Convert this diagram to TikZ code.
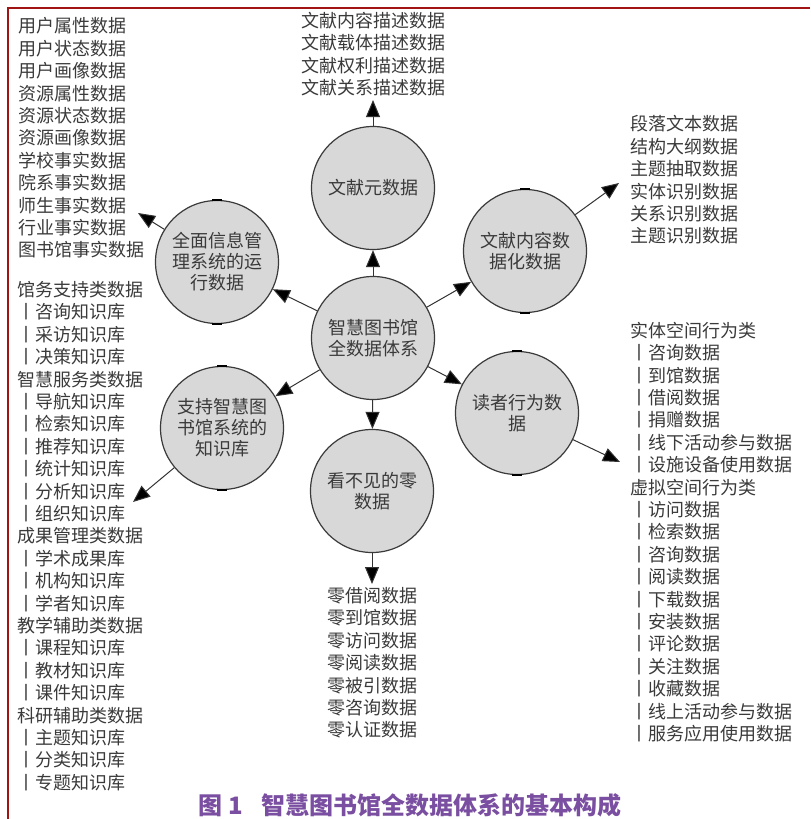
\documentclass[tikz,border=0pt]{standalone}
\usepackage{fontspec}
\setmainfont{Noto Sans CJK SC}
\usepackage{xcolor}
\usetikzlibrary{arrows.meta}
\definecolor{framered}{RGB}{160,20,20}
\definecolor{bubblegray}{RGB}{216,216,216}
\definecolor{inkgray}{RGB}{58,58,58}
\definecolor{capviolet}{RGB}{122,78,160}

\begin{document}
\begin{tikzpicture}[x=0.5pt, y=-0.5pt, semithick]
\tikzstyle{bubble}=[circle, draw=inkgray, fill=bubblegray, line width=0.6pt,
                    minimum size=61.5pt, inner sep=0pt, align=center, text=inkgray,
                    font=\fontsize{9}{10.5}\selectfont]
\tikzstyle{leaf}=[inner sep=0pt, text=inkgray, font=\fontsize{9}{11.2}\selectfont]
\tikzstyle{link}=[-{Triangle[length=8.5pt,width=7pt,fill=black]}, draw=black!80, line width=0.5pt]
\tikzstyle{stub}=[line width=1pt, black]
  \useasboundingbox (0,0) rectangle (810,819);
  \draw[framered, line width=1pt] (810,8) -- (8,8) -- (8,819);

  % circles
  \node[bubble] (hub) at (373,338) {智慧图书馆\\全数据体系};
  \node[bubble] (meta) at (373,188) {文献元数据};
  \node[bubble] (content) at (525,251) {文献内容数\\据化数据};
  \node[bubble] (reader) at (517,413) {读者行为数\\据};
  \node[bubble] (zero) at (372,491) {看不见的零\\数据};
  \node[bubble] (kb) at (222,428) {支持智慧图\\书馆系统的\\知识库};
  \node[bubble] (run) at (217,262) {全面信息管\\理系统的运\\行数据};

  \foreach \c in {content, reader, kb, run} {
    \draw[stub] ([xshift=-2.5pt]\c.north) -- ([xshift=2.5pt]\c.north);
    \draw[stub] ([xshift=-2.5pt]\c.south) -- ([xshift=2.5pt]\c.south);
  }

  % lists
  \node[leaf, align=center] (metaList) at (373,54)
    {文献内容描述数据\\文献载体描述数据\\文献权利描述数据\\文献关系描述数据};
  \node[leaf, align=left, anchor=west] (runList) at (18,138)
    {用户属性数据\\用户状态数据\\用户画像数据\\资源属性数据\\资源状态数据\\资源画像数据\\
     学校事实数据\\院系事实数据\\师生事实数据\\行业事实数据\\图书馆事实数据};
  \node[leaf, align=left, anchor=west] (kbList) at (17,536)
    {馆务支持类数据\\丨咨询知识库\\丨采访知识库\\丨决策知识库\\
     智慧服务类数据\\丨导航知识库\\丨检索知识库\\丨推荐知识库\\丨统计知识库\\丨分析知识库\\丨组织知识库\\
     成果管理类数据\\丨学术成果库\\丨机构知识库\\丨学者知识库\\
     教学辅助类数据\\丨课程知识库\\丨教材知识库\\丨课件知识库\\
     科研辅助类数据\\丨主题知识库\\丨分类知识库\\丨专题知识库};
  \node[leaf, align=left, anchor=west] (contentList) at (630,180)
    {段落文本数据\\结构大纲数据\\主题抽取数据\\实体识别数据\\关系识别数据\\主题识别数据};
  \node[leaf, align=left, anchor=west] (readerList) at (630,532)
    {实体空间行为类\\丨咨询数据\\丨到馆数据\\丨借阅数据\\丨捐赠数据\\丨线下活动参与数据\\丨设施设备使用数据\\
     虚拟空间行为类\\丨访问数据\\丨检索数据\\丨咨询数据\\丨阅读数据\\丨下载数据\\丨安装数据\\
     丨评论数据\\丨关注数据\\丨收藏数据\\丨线上活动参与数据\\丨服务应用使用数据};
  \node[leaf, align=center] (zeroList) at (372,663)
    {零借阅数据\\零到馆数据\\零访问数据\\零阅读数据\\零被引数据\\零咨询数据\\零认证数据};

  % arrow ends at the lists
  \coordinate (metaTip) at (373,100);
  \coordinate (runTip) at (138,213);
  \coordinate (kbTip) at (133,502);
  \coordinate (zeroTip) at (372,584);
  \coordinate (readerTip) at (620,462);
  \coordinate (contentTip) at (619,183);

  \foreach \c in {meta, content, reader, zero, kb, run} {
    \draw[link] (hub) -- (\c);
    \draw[link] (\c) -- (\c Tip);
  }

  \node[text=capviolet, font=\fontsize{12}{14}\selectfont\bfseries] (caption) at (410,805)
    {图 1\hspace{9pt}智慧图书馆全数据体系的基本构成};
\end{tikzpicture}
\end{document}
